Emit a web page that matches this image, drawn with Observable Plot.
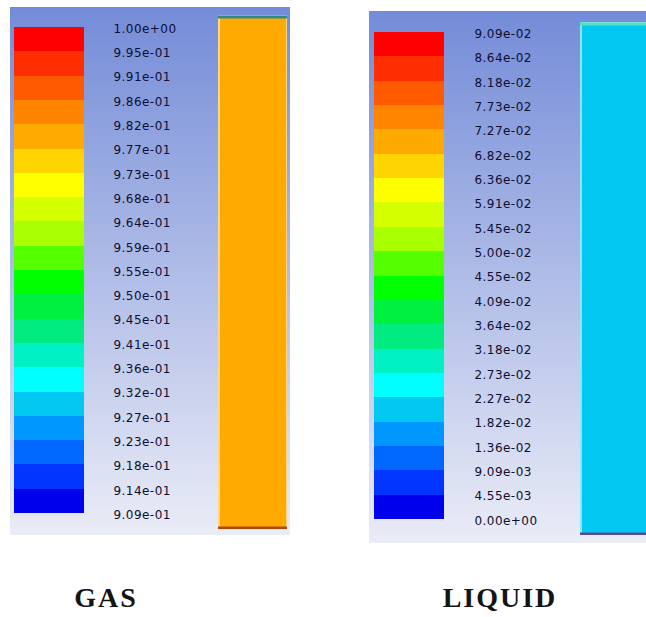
<!DOCTYPE html>
<html>
<head>
<meta charset="utf-8">
<script src="https://cdn.jsdelivr.net/npm/d3@7"></script>
<script src="https://cdn.jsdelivr.net/npm/@observablehq/plot@0.6"></script>
<style>
  html, body { margin: 0; padding: 0; background: #fff; }
  #fig { position: relative; width: 646px; height: 617px; overflow: hidden; }
  .panel {
    position: absolute; overflow: hidden;
    background: linear-gradient(to bottom, rgb(116,140,216), rgb(234,236,246));
  }
  .caption {
    position: absolute; width: 240px; text-align: center;
    font-family: "Liberation Serif", "DejaVu Serif", serif; font-weight: bold;
    font-size: 28px; line-height: 28px; letter-spacing: 2px; color: #141414;
  }
</style>
</head>
<body>
<div id="fig"></div>
<script>
// Contour levels printed beside each colour bar, top to bottom
const gasTicks = [
  "1.00e+00", "9.95e-01", "9.91e-01", "9.86e-01", "9.82e-01", "9.77e-01", "9.73e-01",
  "9.68e-01", "9.64e-01", "9.59e-01", "9.55e-01", "9.50e-01", "9.45e-01", "9.41e-01",
  "9.36e-01", "9.32e-01", "9.27e-01", "9.23e-01", "9.18e-01", "9.14e-01", "9.09e-01"
];
const liquidTicks = [
  "9.09e-02", "8.64e-02", "8.18e-02", "7.73e-02", "7.27e-02", "6.82e-02", "6.36e-02",
  "5.91e-02", "5.45e-02", "5.00e-02", "4.55e-02", "4.09e-02", "3.64e-02", "3.18e-02",
  "2.73e-02", "2.27e-02", "1.82e-02", "1.36e-02", "9.09e-03", "4.55e-03", "0.00e+00"
];

// Colour of each band, highest level first
const bandColors = [
  "rgb(255,0,0)", "rgb(255,45,0)", "rgb(255,90,0)", "rgb(255,132,0)", "rgb(255,170,0)",
  "rgb(255,212,0)", "rgb(255,255,0)", "rgb(212,255,0)", "rgb(168,255,0)", "rgb(84,255,0)",
  "rgb(0,255,0)", "rgb(0,240,64)", "rgb(0,236,128)", "rgb(0,242,196)", "rgb(0,255,255)",
  "rgb(0,200,240)", "rgb(0,152,255)", "rgb(0,104,255)", "rgb(0,52,255)", "rgb(0,0,236)"
];

// Volume fraction filling each column
const gasFraction = 0.98;
const liquidFraction = 0.02;

const panels = [
  {
    name: "GAS", ticks: gasTicks, value: gasFraction,
    box: {left: 10, top: 7, width: 280, height: 528},
    bar: {marginLeft: 4, width: 70, marginTop: 20, marginBottom: 22, padding: 29},
    column: {left: 208, top: 8, width: 69, height: 514, topEdge: "#2f8a86", bottomEdge: "#b4460c"},
    caption: {left: -14, top: 584}
  },
  {
    name: "LIQUID", ticks: liquidTicks, value: liquidFraction,
    box: {left: 369, top: 11, width: 290, height: 532},
    bar: {marginLeft: 5, width: 70, marginTop: 21, marginBottom: 24, padding: 30},
    column: {left: 211, top: 11, width: 80, height: 513, topEdge: "#5cdcc0", bottomEdge: "#5a4c98"},
    caption: {left: 380, top: 584}
  }
];

// Banded colour scale: each band between two printed levels gets one colour
function colorScale(ticks) {
  return {
    type: "threshold",
    domain: ticks.slice(1, -1).map(Number).reverse(),
    range: bandColors.slice().reverse()
  };
}

const fig = document.getElementById("fig");

for (const p of panels) {
  const panel = document.createElement("div");
  panel.className = "panel";
  Object.assign(panel.style, {
    left: p.box.left + "px", top: p.box.top + "px",
    width: p.box.width + "px", height: p.box.height + "px"
  });
  fig.appendChild(panel);

  const bands = d3.range(p.ticks.length - 1).map(k => ({
    k, k2: k + 1, mid: (Number(p.ticks[k]) + Number(p.ticks[k + 1])) / 2
  }));

  // Colour bar with its level labels
  const legendWidth = 200;
  const legend = Plot.plot({
    width: legendWidth,
    height: p.box.height,
    marginLeft: p.bar.marginLeft,
    marginRight: legendWidth - p.bar.marginLeft - p.bar.width,
    marginTop: p.bar.marginTop,
    marginBottom: p.bar.marginBottom,
    y: {domain: [0, p.ticks.length - 1], reverse: true, label: null},
    color: colorScale(p.ticks),
    style: {
      background: "transparent", fontFamily: "DejaVu Sans", fontSize: "12px",
      letterSpacing: "0.45px", color: "#0e0e30", position: "absolute", left: "0px", top: "0px",
      overflow: "visible"
    },
    marks: [
      Plot.rect(bands, {y1: "k", y2: "k2", fill: "mid", shapeRendering: "crispEdges"}),
      Plot.axisY(d3.range(p.ticks.length), {
        anchor: "right", tickSize: 0, tickPadding: p.bar.padding, label: null,
        tickFormat: k => p.ticks[k], dy: 1.5, fill: "#0e0e30",
        stroke: "#0e0e30", strokeWidth: 0.25
      })
    ]
  });
  panel.appendChild(legend);

  // Column filled with the phase's volume fraction
  const c = p.column;
  const column = Plot.plot({
    width: c.width,
    height: c.height,
    margin: 0,
    x: {domain: [0, 1], axis: null},
    y: {domain: [0, 1], axis: null},
    color: colorScale(p.ticks),
    style: {
      background: "transparent", position: "absolute",
      left: c.left + "px", top: c.top + "px"
    },
    marks: [
      Plot.rect([{v: p.value}], {fill: "v"}),
      Plot.frame({stroke: "rgba(255,255,255,0.9)", strokeWidth: 1.2, inset: 0.5}),
      Plot.ruleY([1], {stroke: c.topEdge, strokeWidth: 3, dy: 1.5}),
      Plot.ruleY([0], {stroke: c.bottomEdge, strokeWidth: 3, dy: -1.5})
    ]
  });
  panel.appendChild(column);

  const cap = document.createElement("div");
  cap.className = "caption";
  cap.textContent = p.name;
  cap.style.left = p.caption.left + "px";
  cap.style.top = p.caption.top + "px";
  fig.appendChild(cap);
}
</script>
</body>
</html>
